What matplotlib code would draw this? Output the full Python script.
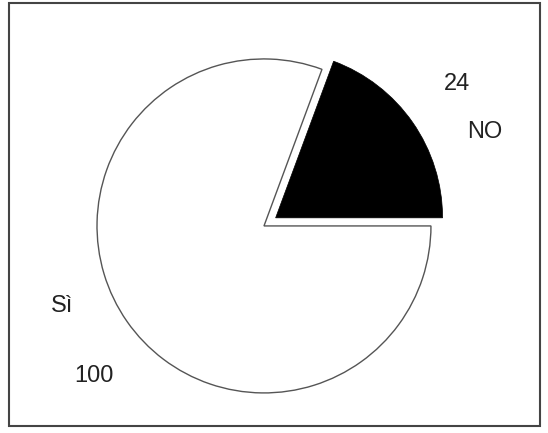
import matplotlib
matplotlib.use("Agg")
import matplotlib.pyplot as plt
from matplotlib.patches import Rectangle

categories = ["NO", "Sì"]
values = [24, 100]
value_labels = ["24", "100"]

plt.rcParams['font.family'] = ['Liberation Sans', 'DejaVu Sans']

fig = plt.figure(figsize=(5.48, 4.33), dpi=100)
fig.patch.set_facecolor('white')
ax = fig.add_axes([0, 0, 1, 1])

wedges, _ = ax.pie(values, startangle=0, counterclock=True,
                   colors=["black", "white"], explode=[0.085, 0],
                   radius=1.0)
wedges[0].set_edgecolor("black")
wedges[0].set_linewidth(0.5)
wedges[1].set_edgecolor("#555555")
wedges[1].set_linewidth(1.0)

ax.set_aspect('auto')
ax.set_xlim(-1.581, 1.701)
ax.set_ylim(-1.240, 1.353)
ax.axis('off')

fs = 17
ax.text(1.156, 0.814, value_labels[0], ha='center', va='baseline', fontsize=fs, color='#222222')
ax.text(1.323, 0.527, categories[0], ha='center', va='baseline', fontsize=fs, color='#222222')
ax.text(-1.210, -0.515, categories[1], ha='center', va='baseline', fontsize=fs, color='#222222')
ax.text(-1.018, -0.934, value_labels[1], ha='center', va='baseline', fontsize=fs, color='#222222')

x0, x1 = 9 / 548, 540 / 548
y0, y1 = (433 - 426) / 433, (433 - 3) / 433
fig.patches.append(Rectangle((x0, y0), x1 - x0, y1 - y0, transform=fig.transFigure,
                             fill=False, edgecolor='#444444', linewidth=1.5))

fig.savefig("out.png", dpi=100)
